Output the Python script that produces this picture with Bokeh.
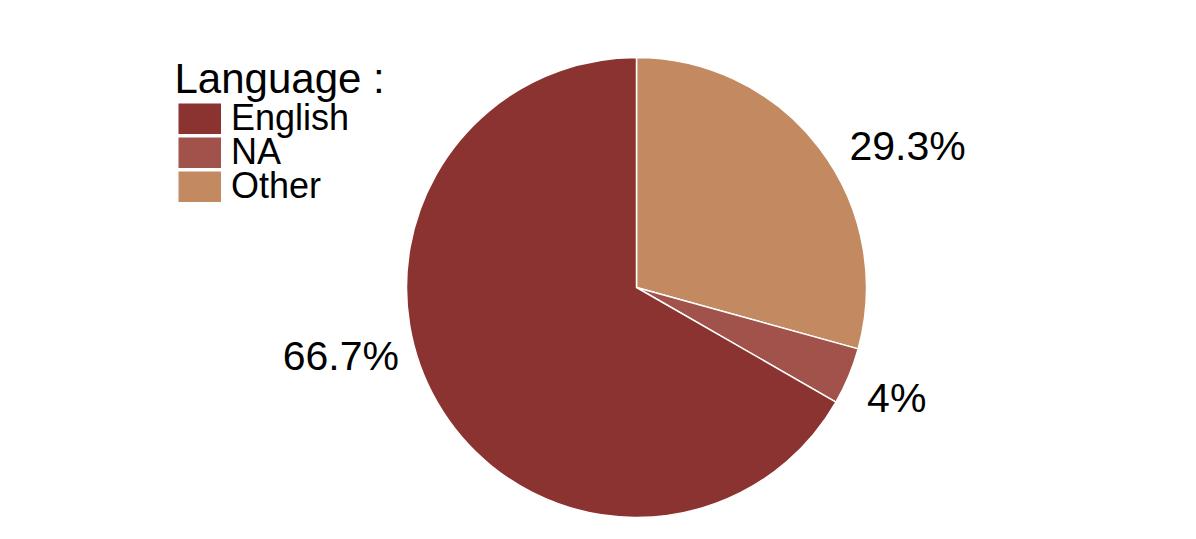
import math
from bokeh.plotting import figure
from bokeh.models import ColumnDataSource, Legend, LegendItem, Range1d, Label
from bokeh.embed import file_html
from bokeh.resources import INLINE

# Data
languages = ["English", "NA", "Other"]
shares = [66.7, 4.0, 29.3]
colors = ["#8B3330", "#A1524A", "#C38A61"]
label_texts = ["66.7%", "4%", "29.3%"]

# Drawing order (clockwise from 12 o'clock): Other, NA, English
draw_order = [2, 1, 0]

W, H = 1180, 523
cx, cy, R = 636, 287, 230  # pie centre (px from top-left of plot) and radius in px

p = figure(width=W, height=H, output_backend="svg", toolbar_location=None,
           x_range=Range1d(-cx / R, (W - cx) / R), y_range=Range1d(-(H - cy) / R, cy / R),
           min_border=0)
p.xaxis.visible = False
p.yaxis.visible = False
p.grid.visible = False
p.outline_line_color = None

total = sum(shares)
starts, ends, cols, names = [], [], [], []
cum = 0.0
for i in draw_order:
    a0 = cum / total * 2 * math.pi
    cum += shares[i]
    a1 = cum / total * 2 * math.pi
    # clockwise from top -> bokeh anticlockwise angles
    starts.append(math.pi / 2 - a1)
    ends.append(math.pi / 2 - a0)
    cols.append(colors[i])
    names.append(languages[i])

src = ColumnDataSource(dict(x=[0] * 3, y=[0] * 3, start=starts, end=ends, color=cols, lang=names))
r = p.wedge(x="x", y="y", radius=1, start_angle="start", end_angle="end",
            fill_color="color", line_color="white", line_width=1.5, source=src)

# label placement (polar: radius factor, angle in degrees, bokeh convention)
label_polar = {"English": (1.32, 193.1), "NA": (1.23, -23.1), "Other": (1.33, 27.6)}
for i, lang in enumerate(languages):
    rr, ang = label_polar[lang]
    p.add_layout(Label(x=rr * math.cos(math.radians(ang)), y=rr * math.sin(math.radians(ang)),
                       text=label_texts[i], text_align="center", text_baseline="middle",
                       text_font="Liberation Sans", text_font_size="41px", text_color="black"))

# Legend title
p.add_layout(Label(x=174, y=H - 78, x_units="screen", y_units="screen", text="Language :",
                   text_font="Liberation Sans", text_font_size="42px", text_color="black",
                   text_baseline="middle", text_align="left"))

# Legend entries: one compact legend per entry so swatches stack tightly
row_h = 41
centers = [119, 152.5, 186]
for i, lang in enumerate(languages):
    swatch = p.line(x=[0], y=[0], line_color=colors[i], line_width=31, line_cap="butt")
    lg = Legend(items=[LegendItem(label=lang, renderers=[swatch])],
                location=(178, int(round(H - centers[i] - row_h / 2))),
                label_text_font="Liberation Sans", label_text_font_size="36px",
                label_text_color="black",
                glyph_width=43, glyph_height=31, label_height=31, spacing=0,
                label_standoff=10, padding=0, margin=0,
                border_line_color=None, background_fill_alpha=0)
    p.add_layout(lg)

open("out.html", "w").write(file_html(p, INLINE))
